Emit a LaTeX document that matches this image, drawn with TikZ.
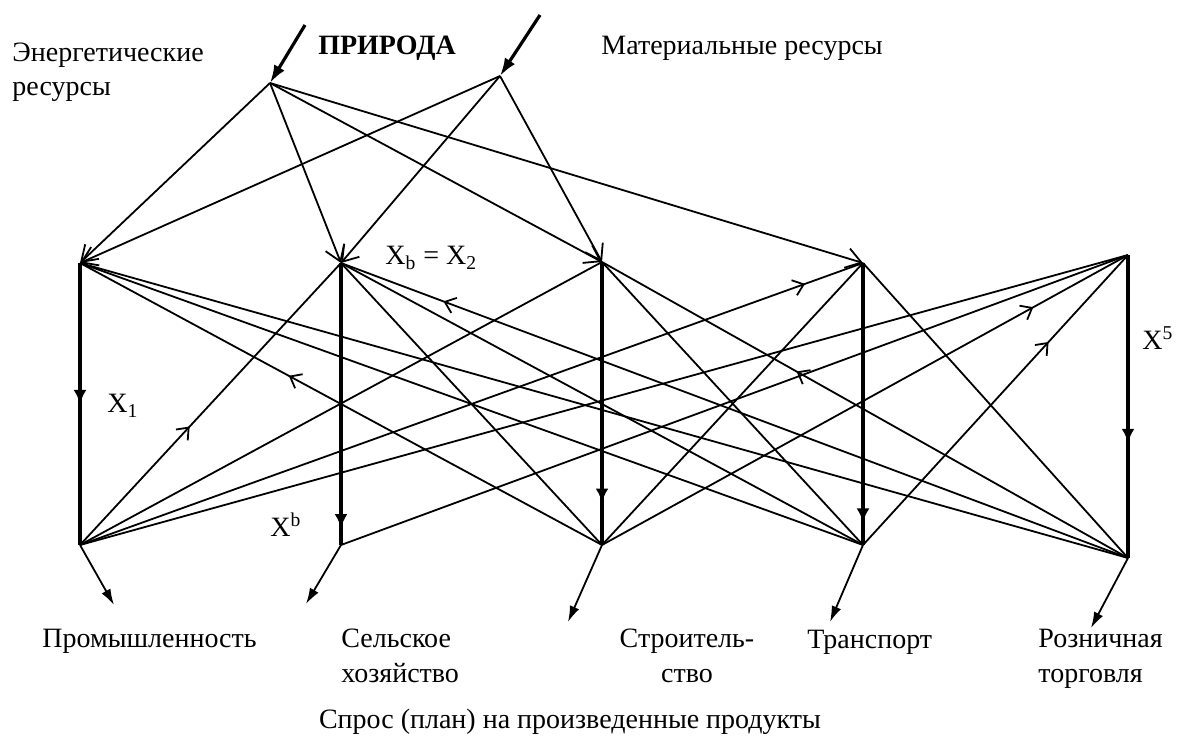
\documentclass[tikz,border=0pt]{standalone}
\usepackage{fontspec}
\setmainfont{Liberation Serif}
\usetikzlibrary{arrows.meta,decorations.markings}

\begin{document}
\begin{tikzpicture}[x=0.5pt,y=-0.5pt,
  link/.style={line width=0.9pt},
  flowmark/.style={postaction={decorate,decoration={markings,
      mark=at position #1 with {\arrow{Straight Barb[length=5pt,width=8pt]}}}}},
  supply/.style={line width=0.9pt,-{Straight Barb[length=7.5pt,width=10pt]}},
  source/.style={line width=1.6pt,-{Latex[length=9pt,width=6pt]}},
  output/.style={line width=0.9pt,-{Latex[length=8pt,width=5pt]}},
  branch/.style={line width=2.2pt,postaction={decorate,decoration={markings,
      mark=at position #1 with {\arrow{Latex[length=7pt,width=6.5pt]}}}}},
  lbl/.style={font=\fontsize{14}{17.5}\selectfont,inner sep=0pt},
]
\useasboundingbox (0,0) rectangle (1188,742);

% resource points
\coordinate (E) at (270,83);
\coordinate (M) at (500,76);
\coordinate (Ein) at (305,25);
\coordinate (Min) at (540,15);

% branch columns: top and bottom ends
\coordinate (T1) at (80,263);
\coordinate (T2) at (341,263);
\coordinate (T3) at (602,262);
\coordinate (T4) at (863,263);
\coordinate (T5) at (1128,255);
\coordinate (B1) at (80,545);
\coordinate (B2) at (341,545);
\coordinate (B3) at (602,545);
\coordinate (B4) at (863,545);
\coordinate (B5) at (1128,558);

% ends of the final-demand arrows
\coordinate (O1) at (114,605);
\coordinate (O2) at (306,604);
\coordinate (O3) at (568,622);
\coordinate (O4) at (830,622);
\coordinate (O5) at (1091,628);

% inflow from nature
\draw[source] (Ein) -- (E);
\draw[source] (Min) -- (M);

% resources delivered to the branches
\draw[supply] (E) -- (T1);
\draw[supply] (E) -- (T2);
\draw[supply] (E) -- (T3);
\draw[supply] (E) -- (T4);
\draw[supply] (M) -- (T1);
\draw[supply] (M) -- (T2);
\draw[supply] (M) -- (T3);

% inter-branch deliveries
\draw[link,flowmark=0.42] (B1) -- (T2);
\draw[link] (B1) -- (T3);
\draw[link,flowmark=0.926] (B1) -- (T4);
\draw[link] (B1) -- (T5);
\draw[link] (B2) -- (T5);
\draw[link,flowmark=0.60] (B3) -- (T1);
\draw[link] (B3) -- (T2);
\draw[link] (B3) -- (T4);
\draw[link,flowmark=0.82] (B3) -- (T5);
\draw[link] (B4) -- (T1);
\draw[link] (B4) -- (T2);
\draw[link] (B4) -- (T3);
\draw[link,flowmark=0.70] (B4) -- (T5);
\draw[link] (B5) -- (T1);
\draw[link,flowmark=0.87] (B5) -- (T2);
\draw[link,flowmark=0.63] (B5) -- (T3);
\draw[link] (B5) -- (T4);

% branch columns
\draw[branch=0.50] (T1) -- (B1);
\draw[branch=0.94] (T2) -- (B2);
\draw[branch=0.85] (T3) -- (B3);
\draw[branch=0.92] (T4) -- (B4);
\draw[branch=0.62] (T5) -- (B5);

% final demand
\draw[output] (B1) -- (O1);
\draw[output] (B2) -- (O2);
\draw[output] (B3) -- (O3);
\draw[output] (B4) -- (O4);
\draw[output] (B5) -- (O5);

% labels (multi-line nodes are placed by the baseline of their last line)
\node[lbl,anchor=base west,align=left,font=\fontsize{14}{17}\selectfont] (energy) at (12,96) {Энергетические\\ресурсы};
\node[lbl,anchor=base,font=\fontsize{14}{16}\selectfont\bfseries] (nature) at (387,55) {ПРИРОДА};
\node[lbl,anchor=base west] (material) at (601,55) {Материальные ресурсы};
\node[lbl,anchor=base west] (xb2) at (385,265) {X\textsubscript{b} = X\textsubscript{2}};
\node[lbl,anchor=base west] (x1) at (107,413) {X\textsubscript{1}};
\node[lbl,anchor=base west] (xsb) at (270,537) {X\textsuperscript{b}};
\node[lbl,anchor=base west] (x5) at (1142,350) {X\textsuperscript{5}};
\node[lbl,anchor=base west] (ind) at (42,647) {Промышленность};
\node[lbl,anchor=base west,align=left] (agr) at (341,682) {Сельское\\хозяйство};
\node[lbl,anchor=base,align=center] (con) at (687,682) {Строитель-\\ство};
\node[lbl,anchor=base west] (tra) at (807,648) {Транспорт};
\node[lbl,anchor=base west,align=left] (ret) at (1038,682) {Розничная\\торговля};
\node[lbl,anchor=base] (demand) at (570,728) {Спрос (план) на произведенные продукты};
\end{tikzpicture}
\end{document}
